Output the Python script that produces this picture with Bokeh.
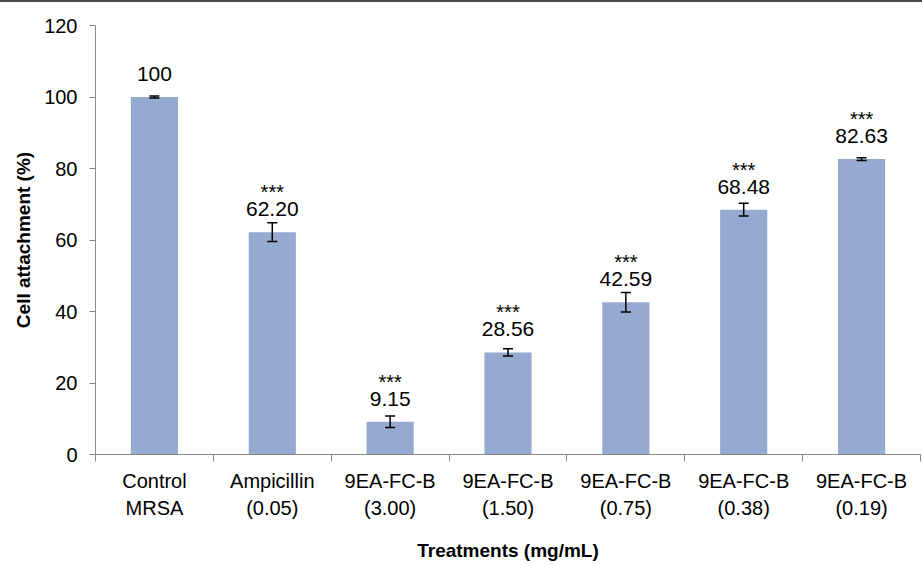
from bokeh.plotting import figure
from bokeh.layouts import column
from bokeh.models import Range1d, FixedTicker, ColumnDataSource, Whisker, TeeHead, Div
from bokeh.core.properties import value
from bokeh.embed import file_html
from bokeh.resources import INLINE

categories = ["Control\nMRSA", "Ampicillin\n(0.05)", "9EA-FC-B\n(3.00)", "9EA-FC-B\n(1.50)",
              "9EA-FC-B\n(0.75)", "9EA-FC-B\n(0.38)", "9EA-FC-B\n(0.19)"]
values = [100.0, 62.20, 9.15, 28.56, 42.59, 68.48, 82.63]
value_labels = ["100", "62.20", "9.15", "28.56", "42.59", "68.48", "82.63"]
errors = [0.3, 2.6, 1.6, 1.0, 2.7, 1.8, 0.4]
stars = ["", "***", "***", "***", "***", "***", "***"]
y_ticks = [0, 20, 40, 60, 80, 100, 120]

FONT = "Liberation Sans"
AXIS_GRAY = "#8a8a8a"
BAR_COLOR = "#95A9D1"

n = len(categories)
xs = [i + 0.5 for i in range(n)]
bounds = [float(i) for i in range(n + 1)]

src = ColumnDataSource(dict(
    x=xs, top=values, lab=value_labels, star=stars,
    upper=[v + e for v, e in zip(values, errors)],
    lower=[v - e for v, e in zip(values, errors)],
))

p = figure(width=921, height=562, output_backend="svg", toolbar_location=None,
           x_range=Range1d(0, n), y_range=Range1d(0, 120),
           min_border_left=95, min_border_right=1, min_border_top=23, min_border_bottom=109)
p.outline_line_color = None
p.xgrid.visible = False
p.ygrid.visible = False
p.background_fill_color = "white"
p.border_fill_color = "white"

p.vbar(x="x", top="top", width=0.4, bottom=0, source=src,
       fill_color=BAR_COLOR, line_color=None)

w = Whisker(base="x", upper="upper", lower="lower", source=src, level="overlay",
            line_color="black", line_width=1.5,
            upper_head=TeeHead(size=10, line_color="black", line_width=1.5),
            lower_head=TeeHead(size=10, line_color="black", line_width=1.5))
p.add_layout(w)

p.text(x="x", y="top", text="lab", source=src, y_offset=-23,
       text_align="center", text_baseline="alphabetic",
       text_font=value(FONT), text_font_size="21px", text_color="black")
p.text(x="x", y="top", text="star", source=src, y_offset=-40,
       text_align="center", text_baseline="alphabetic",
       text_font=value(FONT), text_font_size="20px", text_color="black")

# x axis
xa = p.xaxis[0]
xa.ticker = FixedTicker(ticks=xs, minor_ticks=bounds)
xa.major_label_overrides = {x: c for x, c in zip(xs, categories)}
xa.major_tick_out = 0
xa.major_tick_in = 0
xa.minor_tick_out = 7
xa.minor_tick_in = 0
xa.minor_tick_line_color = AXIS_GRAY
xa.axis_line_color = AXIS_GRAY
xa.major_label_text_font = FONT
xa.major_label_text_font_size = "20px"
xa.major_label_text_color = "black"
xa.major_label_text_line_height = 1.25
xa.major_label_standoff = 8
xa.axis_label = "Treatments (mg/mL)"
xa.axis_label_text_font = FONT
xa.axis_label_text_font_style = "bold"
xa.axis_label_text_font_size = "19px"
xa.axis_label_text_color = "black"
xa.axis_label_standoff = 18

# y axis
ya = p.yaxis[0]
ya.ticker = FixedTicker(ticks=y_ticks, minor_ticks=[])
ya.major_tick_out = 6
ya.major_tick_in = 0
ya.major_tick_line_color = AXIS_GRAY
ya.axis_line_color = AXIS_GRAY
ya.major_label_text_font = FONT
ya.major_label_text_font_size = "20px"
ya.major_label_text_color = "black"
ya.major_label_standoff = 12
ya.axis_label = "Cell attachment (%)"
ya.axis_label_text_font = FONT
ya.axis_label_text_font_style = "bold"
ya.axis_label_text_font_size = "19px"
ya.axis_label_text_color = "black"
ya.axis_label_standoff = 7

top_rule = Div(text="", width=922, height=2, margin=(0, 0, 0, 0),
               styles={"background-color": "#4a4a4a"})

layout = column(top_rule, p, spacing=0, margin=(0, 0, 0, 0))

open("out.html", "w").write(file_html(layout, INLINE))
